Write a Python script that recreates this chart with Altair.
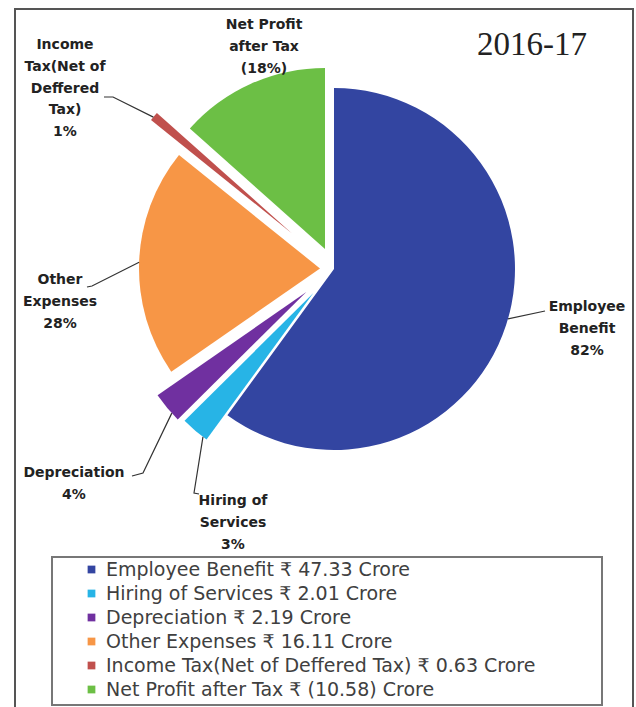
import math
import altair as alt
import pandas as pd

# ---------------- data ----------------
CATEGORIES = [
    "Employee Benefit",
    "Hiring of Services",
    "Depreciation",
    "Other Expenses",
    "Income Tax(Net of Deffered Tax)",
    "Net Profit after Tax",
]
AMOUNTS = [47.33, 2.01, 2.19, 16.11, 0.63, 10.58]          # ₹ crore (slice sizes)
AMOUNT_TEXT = ["47.33", "2.01", "2.19", "16.11", "0.63 ", "(10.58)"]
SLICE_NAME_LINES = [
    ["Employee", "Benefit"],
    ["Hiring of", "Services"],
    ["Depreciation"],
    ["Other", "Expenses"],
    ["Income", "Tax(Net of", "Deffered", "Tax)"],
    ["Net Profit", "after Tax"],
]
SLICE_PCT = ["82%", "3%", "4%", "28%", "1%", "(18%)"]
TITLE = "2016-17"

# ---------------- style ----------------
COLORS = ["#3345A1", "#27B4E6", "#7030A0", "#F79646", "#C0504D", "#6CBF45"]
EXPLODE = [0, 32, 36, 14, 55, 22]
CX, CY, R = 334, 269, 181
LABEL_FONT = "DejaVu Sans"
LINE_H = 21.8
# label block: centre x, first-line centre y
LABEL_ANCHOR = [(587, 307), (233, 501), (74, 473), (60, 280), (65, 45), (264, 25)]
# leader: angle on the slice's arc, then bend points
LEADERS = [
    (106, [(545, 311)]),
    (217.5, [(194, 493), (199, 494)]),
    (228, [(143, 473), (132, 476)]),
    (272, [(92, 286), (87, 287)]),
    (310, [(113, 97), (104, 97)]),
    None,
]

legend_labels = [f"{c} \u20b9 {a} Crore" for c, a in zip(CATEGORIES, AMOUNT_TEXT)]

df = pd.DataFrame({
    "order": list(range(len(CATEGORIES))),
    "category": CATEGORIES,
    "amount": AMOUNTS,
    "legend": legend_labels,
    "explode": EXPLODE,
})

arcs = (
    alt.Chart(df)
    .transform_joinaggregate(total="sum(amount)")
    .transform_window(cum="sum(amount)", sort=[alt.SortField("order")])
    .transform_calculate(t0="2*PI*(datum.cum - datum.amount)/datum.total")
    .transform_calculate(t1="2*PI*datum.cum/datum.total")
    .transform_calculate(mid="(datum.t0 + datum.t1)/2")
    .transform_calculate(cx=f"{CX} + datum.explode*sin(datum.mid)")
    .transform_calculate(cy=f"{CY} - datum.explode*cos(datum.mid)")
    .mark_arc(radius=R, stroke=None)
    .encode(
        theta=alt.Theta("t0:Q", scale=None, stack=None),
        theta2="t1:Q",
        x=alt.X("cx:Q", scale=None),
        y=alt.Y("cy:Q", scale=None),
        color=alt.Color(
            "legend:N",
            sort=legend_labels,
            scale=alt.Scale(domain=legend_labels, range=COLORS),
            legend=alt.Legend(
                orient="none", legendX=82, legendY=560, title=None,
                symbolType="square", symbolSize=60, symbolStrokeWidth=0,
                symbolOpacity=1, labelFont=LABEL_FONT, labelFontSize=19,
                labelColor="#404040", rowPadding=4, labelOffset=5,
                padding=0, labelLimit=0,
            ),
        ),
    )
)

# leader lines (start on the exploded slice's rim)
total = sum(AMOUNTS)
cum = 0.0
rows = []
for i, amt in enumerate(AMOUNTS):
    a0 = cum / total * 2 * math.pi
    cum += amt
    a1 = cum / total * 2 * math.pi
    mid = (a0 + a1) / 2
    spec = LEADERS[i]
    if spec is None:
        continue
    ang, pts = spec
    ax = CX + EXPLODE[i] * math.sin(mid)
    ay = CY - EXPLODE[i] * math.cos(mid)
    a = math.radians(ang)
    sx = ax + R * math.sin(a)
    sy = ay - R * math.cos(a)
    rows.append({"id": i, "seq": 0, "x": sx, "y": sy})
    for k, (px, py) in enumerate(pts):
        rows.append({"id": i, "seq": k + 1, "x": px, "y": py})
lead_df = pd.DataFrame(rows)

leaders = (
    alt.Chart(lead_df)
    .mark_line(color="#333333", strokeWidth=1.2)
    .encode(
        x=alt.X("x:Q", scale=None),
        y=alt.Y("y:Q", scale=None),
        detail="id:N",
        order="seq:Q",
    )
)

lab_rows = []
for lines, pct, (lx, ly) in zip(SLICE_NAME_LINES, SLICE_PCT, LABEL_ANCHOR):
    lab_rows.append({"text": "\n".join(lines + [pct]), "x": lx, "y": ly})
lab_df = pd.DataFrame(lab_rows)

labels = (
    alt.Chart(lab_df)
    .mark_text(
        lineBreak="\n", lineHeight=LINE_H, font=LABEL_FONT, fontWeight="bold",
        fontSize=14, align="center", baseline="middle", color="#222222",
    )
    .encode(x=alt.X("x:Q", scale=None), y=alt.Y("y:Q", scale=None), text="text:N")
)

one = pd.DataFrame({"t": [TITLE]})
title = (
    alt.Chart(one)
    .mark_text(font="Liberation Serif", fontSize=33, align="center",
               baseline="alphabetic", color="#222222")
    .encode(x=alt.value(532), y=alt.value(55), text="t:N")
)

frame = (
    alt.Chart(one)
    .mark_rect(fill="transparent", stroke="#555555", strokeWidth=2)
    .encode(x=alt.value(15), x2=alt.value(633), y=alt.value(9), y2=alt.value(730))
)
legend_box = (
    alt.Chart(one)
    .mark_rect(fill="transparent", stroke="#777777", strokeWidth=2)
    .encode(x=alt.value(52), x2=alt.value(602), y=alt.value(557), y2=alt.value(705))
)

chart = (
    alt.layer(frame, legend_box, arcs, leaders, labels, title)
    .properties(width=636, height=707, autosize=alt.AutoSizeParams(type="none"), padding=0)
    .configure_view(stroke=None)
)

chart.save("out.html", embed_options={"renderer": "svg", "actions": False})
